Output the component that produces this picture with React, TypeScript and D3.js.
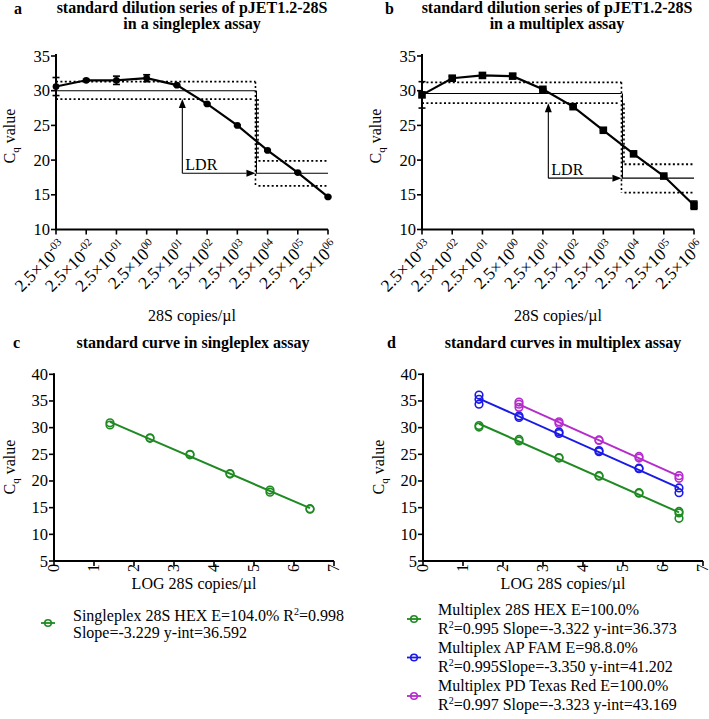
import React from 'react';
import * as d3 from 'd3';

const FONT = "'Liberation Serif', 'Times New Roman', Times, serif";

// ---- Panels a / b : dilution series ----
const dilutionExponents = ['-03', '-02', '-01', '00', '01', '02', '03', '04', '05', '06'];
const singleplexMean = [30.6, 31.5, 31.5, 31.8, 30.8, 28.1, 25.0, 21.4, 18.2, 14.7];
const singleplexSD = [1.3, 0.15, 0.6, 0.5, 0.1, 0.1, 0.1, 0.1, 0.1, 0.1];
const multiplexMean = [29.4, 31.8, 32.2, 32.1, 30.2, 27.7, 24.3, 20.9, 17.7, 13.5];
const multiplexSD = [1.9, 0.3, 0.35, 0.3, 0.1, 0.1, 0.1, 0.1, 0.1, 0.6];
// [upper bound, mean, lower bound] of the plateau and of the last dilutions
const singleplexLDRUpper = [31.3, 30.0, 28.8];
const singleplexLDRLower = [19.9, 18.1, 16.3];
const multiplexLDRUpper = [31.2, 29.6, 28.2];
const multiplexLDRLower = [19.4, 17.4, 15.3];
// LDR start / end expressed in dilution-index units
const ldrRange = [4.18, 6.6];
const cqTicksAB = [10, 15, 20, 25, 30, 35];

// ---- Panels c / d : standard curves ----
const logTicks = [0, 1, 2, 3, 4, 5, 6, 7];
const cqTicksCD = [5, 10, 15, 20, 25, 30, 35, 40];

const singleHexLog = [1.4, 1.4, 2.4, 2.4, 3.4, 3.4, 4.4, 4.4, 5.4, 5.4, 6.4, 6.4];
const singleHexCq = [30.9, 30.5, 28.1, 28.0, 25.0, 24.9, 21.4, 21.3, 18.3, 17.9, 14.8, 14.7];

const multiHexLog = [1.4, 1.4, 2.4, 2.4, 3.4, 3.4, 4.4, 4.4, 5.4, 5.4, 6.4, 6.4, 6.4];
const multiHexCq = [30.4, 30.1, 27.8, 27.5, 24.4, 24.3, 21.0, 20.9, 17.8, 17.7, 14.3, 14.0, 13.0];
const multiFamLog = [1.4, 1.4, 1.4, 2.4, 2.4, 3.4, 3.4, 4.4, 4.4, 5.4, 5.4, 6.4, 6.4];
const multiFamCq = [36.1, 35.3, 34.4, 32.2, 31.9, 29.2, 28.9, 25.7, 25.5, 22.4, 22.3, 18.7, 17.8];
const multiTexLog = [2.4, 2.4, 2.4, 3.4, 3.4, 4.4, 4.4, 5.4, 5.4, 6.4, 6.4];
const multiTexCq = [34.8, 34.4, 33.8, 31.1, 30.8, 27.7, 27.6, 24.6, 24.3, 21.0, 20.5];

const GREEN = '#1f8a22';
const BLUE = '#1a1ae6';
const MAGENTA = '#b52ccc';

const singleLegend = [['Singleplex 28S HEX E=104.0% ', '0.998'], ['Slope=-3.229 y-int=36.592']];
const multiLegend = [
  ['Multiplex 28S HEX E=100.0%', '=0.995 Slope=-3.322 y-int=36.373'],
  ['Multiplex AP FAM E=98.8.0%', '=0.995Slope=-3.350 y-int=41.202'],
  ['Multiplex PD Texas Red E=100.0%', '=0.997 Slope=-3.323 y-int=43.169'],
];

function fit(xs: number[], ys: number[]) {
  const mx = d3.mean(xs) as number;
  const my = d3.mean(ys) as number;
  let num = 0, den = 0;
  xs.forEach((x, i) => { num += (x - mx) * (ys[i] - my); den += (x - mx) ** 2; });
  const slope = num / den;
  return { slope, intercept: my - slope * mx };
}

function CqLabel({ x, y }: { x: number; y: number }) {
  return (
    <text transform={`translate(${x},${y}) rotate(-90)`} textAnchor="middle" fontSize={16} fontFamily={FONT}>
      <tspan>C</tspan>
      <tspan dy={4} fontSize={11}>q</tspan>
      <tspan dy={-4}> value</tspan>
    </text>
  );
}

function DilutionPanel(props: {
  left: number; means: number[]; sd: number[]; upper: number[]; lower: number[];
  square: boolean; letter: string; letterX: number; title: string[]; titleX: number;
}) {
  const { left, means, sd, upper, lower, square, letter, letterX, title, titleX } = props;
  const x = d3.scaleLinear().domain([0, 9]).range([left, left + 272]);
  const y = d3.scaleLinear().domain([10, 35]).range([229.5, 56]);
  const line = d3.line<number>().x((_, i) => x(i)).y((d) => y(d));
  const cut = x(ldrRange[1]);
  const ax = x(ldrRange[0]);
  const dots = '2,2.4';
  const yL = y(lower[1]);
  const yTip = y(upper[2]);
  return (
    <g fontFamily={FONT}>
      <text x={letterX} y={13.5} fontWeight="bold" fontSize={16}>{letter}</text>
      <text x={titleX} y={12.5} fontWeight="bold" fontSize={16} textAnchor="middle">{title[0]}</text>
      <text x={titleX} y={29} fontWeight="bold" fontSize={16} textAnchor="middle">{title[1]}</text>
      {/* LDR guide lines */}
      <g fill="none" stroke="#000">
        <line x1={x(0)} x2={cut} y1={y(upper[1])} y2={y(upper[1])} strokeWidth={1.1} />
        <line x1={cut + 1} x2={cut + 1} y1={y(upper[1])} y2={yL} strokeWidth={1.1} />
        <line x1={cut} x2={x(9)} y1={yL} y2={yL} strokeWidth={1.1} />
        <line x1={x(0)} x2={cut} y1={y(upper[0])} y2={y(upper[0])} strokeWidth={1.8} strokeDasharray={dots} />
        <line x1={x(0)} x2={cut - 3} y1={y(upper[2])} y2={y(upper[2])} strokeWidth={1.8} strokeDasharray={dots} />
        <line x1={cut} x2={cut} y1={y(upper[0])} y2={y(lower[2])} strokeWidth={1.6} strokeDasharray={dots} />
        <line x1={cut + 2.5} x2={cut + 2.5} y1={y(upper[2])} y2={y(lower[0])} strokeWidth={1.6} strokeDasharray={dots} />
        <line x1={cut + 3} x2={x(9)} y1={y(lower[0])} y2={y(lower[0])} strokeWidth={1.8} strokeDasharray={dots} />
        <line x1={cut + 3} x2={x(9)} y1={y(lower[2])} y2={y(lower[2])} strokeWidth={1.8} strokeDasharray={dots} />
        {/* LDR arrows */}
        <line x1={ax} x2={ax} y1={yL} y2={yTip + 8} strokeWidth={1.1} />
        <line x1={ax} x2={cut - 9} y1={yL} y2={yL} strokeWidth={1.1} />
      </g>
      <path d={`M${ax},${yTip} L${ax - 3.5},${yTip + 9} L${ax + 3.5},${yTip + 9} Z`} fill="#000" />
      <path d={`M${cut},${yL} L${cut - 9},${yL - 3.5} L${cut - 9},${yL + 3.5} Z`} fill="#000" />
      <text x={ax + 3} y={yL - 3} fontSize={16}>LDR</text>
      {/* data */}
      <path d={line(means) || ''} fill="none" stroke="#000" strokeWidth={2.2} />
      {means.map((m, i) => (
        <g key={i} stroke="#000" strokeWidth={1.6}>
          <line x1={x(i)} x2={x(i)} y1={y(m - sd[i])} y2={y(m + sd[i])} />
          <line x1={x(i) - 3.5} x2={x(i) + 3.5} y1={y(m - sd[i])} y2={y(m - sd[i])} />
          <line x1={x(i) - 3.5} x2={x(i) + 3.5} y1={y(m + sd[i])} y2={y(m + sd[i])} />
        </g>
      ))}
      {means.map((m, i) =>
        square ? (
          <rect key={i} x={x(i) - 3.8} y={y(m) - 3.8} width={7.6} height={7.6} fill="#000" />
        ) : (
          <circle key={i} cx={x(i)} cy={y(m)} r={3.4} fill="#000" />
        )
      )}
      {/* axes */}
      <line x1={x(0)} x2={x(0)} y1={y(35) - 2} y2={y(10)} stroke="#000" strokeWidth={2} />
      <line x1={x(0)} x2={x(9)} y1={y(10)} y2={y(10)} stroke="#000" strokeWidth={2} />
      {cqTicksAB.map((t) => (
        <g key={t}>
          <line x1={x(0) - 5} x2={x(0)} y1={y(t)} y2={y(t)} stroke="#000" strokeWidth={1.6} />
          <text x={x(0) - 6} y={y(t) + 5.5} textAnchor="end" fontSize={16.5}>{t}</text>
        </g>
      ))}
      {dilutionExponents.map((e, i) => (
        <g key={e}>
          <line x1={x(i)} x2={x(i)} y1={y(10)} y2={y(10) + 5} stroke="#000" strokeWidth={1.6} />
          <text transform={`translate(${x(i) + 11},${y(10) + 18}) rotate(-45)`} textAnchor="end" fontSize={17.5}>
            <tspan>2.5×10</tspan>
            <tspan dy={-7} fontSize={11}>{e}</tspan>
          </text>
        </g>
      ))}
      <CqLabel x={left - 41} y={136} />
      <text x={x(4.5)} y={321} textAnchor="middle" fontSize={16}>28S copies/µl</text>
    </g>
  );
}

function Marker({ cx, cy, color, legend }: { cx: number; cy: number; color: string; legend?: boolean }) {
  return (
    <g>
      {legend && <line x1={cx - 7} x2={cx + 7} y1={cy} y2={cy} stroke={color} strokeWidth={1.8} />}
      <circle cx={cx} cy={cy} r={legend ? 3.3 : 3.8} fill="none" stroke={color} strokeWidth={1.6} />
    </g>
  );
}

function StdPanel(props: {
  left: number; series: { xs: number[]; ys: number[]; color: string }[];
  letter: string; letterX: number; title: string; titleX: number;
}) {
  const { left, series, letter, letterX, title, titleX } = props;
  const x = d3.scaleLinear().domain([0, 7]).range([left, left + 280]);
  const y = d3.scaleLinear().domain([5, 40]).range([561, 374.3]);
  return (
    <g fontFamily={FONT}>
      <text x={letterX} y={348} fontWeight="bold" fontSize={16}>{letter}</text>
      <text x={titleX} y={348} fontWeight="bold" fontSize={16} textAnchor="middle">{title}</text>
      {series.map((s, k) => {
        const f = fit(s.xs, s.ys);
        const x0 = d3.min(s.xs) as number;
        const x1 = d3.max(s.xs) as number;
        return (
          <g key={k}>
            <line x1={x(x0)} x2={x(x1)} y1={y(f.intercept + f.slope * x0)} y2={y(f.intercept + f.slope * x1)}
              stroke={s.color} strokeWidth={2} />
            {s.xs.map((v, i) => <Marker key={i} cx={x(v)} cy={y(s.ys[i])} color={s.color} />)}
          </g>
        );
      })}
      <line x1={x(0)} x2={x(0)} y1={y(40) - 1} y2={y(5)} stroke="#000" strokeWidth={2} />
      <line x1={x(0)} x2={x(7)} y1={y(5)} y2={y(5)} stroke="#000" strokeWidth={2} />
      {cqTicksCD.map((t) => (
        <g key={t}>
          <line x1={x(0) - 5} x2={x(0)} y1={y(t)} y2={y(t)} stroke="#000" strokeWidth={1.6} />
          <text x={x(0) - 6} y={y(t) + 5.5} textAnchor="end" fontSize={16.5}>{t}</text>
        </g>
      ))}
      {logTicks.map((t) => (
        <g key={t}>
          <line x1={x(t)} x2={x(t)} y1={y(5)} y2={y(5) + 5} stroke="#000" strokeWidth={1.6} />
          <text transform={`translate(${x(t) + 5},${y(5) + 3}) rotate(-90)`} textAnchor="end" fontSize={16}>{t}</text>
        </g>
      ))}
      <CqLabel x={left - 39} y={467} />
      <text x={x(3.5)} y={589} textAnchor="middle" fontSize={16}>LOG 28S copies/µl</text>
    </g>
  );
}

export default function App() {
  return (
    <svg width={709} height={719} style={{ position: 'absolute', left: 0, top: 0, background: '#fff' }}
      fontFamily={FONT}>
      <rect width={709} height={719} fill="#fff" />
      <DilutionPanel left={56} means={singleplexMean} sd={singleplexSD} upper={singleplexLDRUpper}
        lower={singleplexLDRLower} square={false} letter="a" letterX={14} titleX={192}
        title={['standard dilution series of pJET1.2-28S', 'in a singleplex assay']} />
      <DilutionPanel left={422} means={multiplexMean} sd={multiplexSD} upper={multiplexLDRUpper}
        lower={multiplexLDRLower} square={true} letter="b" letterX={385} titleX={557}
        title={['standard dilution series of pJET1.2-28S', 'in a multiplex assay']} />
      <StdPanel left={54} letter="c" letterX={13} title="standard curve in singleplex assay" titleX={193}
        series={[{ xs: singleHexLog, ys: singleHexCq, color: GREEN }]} />
      <StdPanel left={423} letter="d" letterX={387} title="standard curves in multiplex assay" titleX={563}
        series={[
          { xs: multiHexLog, ys: multiHexCq, color: GREEN },
          { xs: multiFamLog, ys: multiFamCq, color: BLUE },
          { xs: multiTexLog, ys: multiTexCq, color: MAGENTA },
        ]} />
      {/* legend c */}
      <g fontFamily={FONT} fontSize={16}>
        <Marker cx={48} cy={623} color={GREEN} legend />
        <text x={73} y={621}>
          <tspan>{singleLegend[0][0]}R</tspan>
          <tspan dy={-6} fontSize={10}>2</tspan>
          <tspan dy={6}>={singleLegend[0][1]}</tspan>
        </text>
        <text x={73} y={637.5}>{singleLegend[1][0]}</text>
      </g>
      {/* legend d */}
      <g fontFamily={FONT} fontSize={16}>
        {multiLegend.map((l, i) => (
          <g key={i}>
            <Marker cx={414} cy={619 + i * 38.5} color={[GREEN, BLUE, MAGENTA][i]} legend />
            <text x={438} y={615 + i * 38}>{l[0]}</text>
            <text x={438} y={633.5 + i * 38}>
              <tspan>R</tspan>
              <tspan dy={-6} fontSize={10}>2</tspan>
              <tspan dy={6}>{l[1]}</tspan>
            </text>
          </g>
        ))}
      </g>
    </svg>
  );
}
